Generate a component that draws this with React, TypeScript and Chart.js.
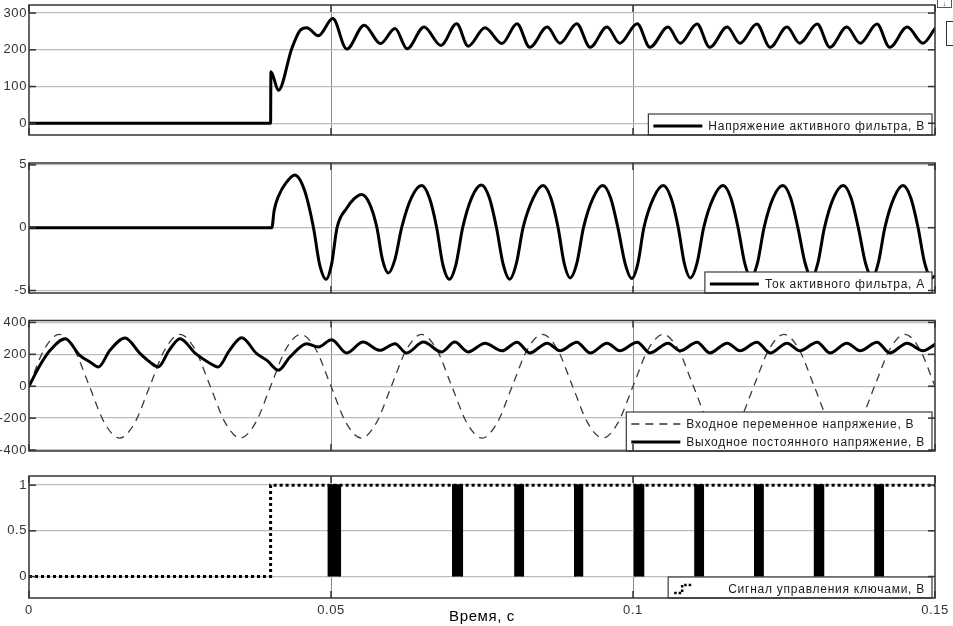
import React, { useEffect, useRef } from "react";
import { Chart, registerables } from "chart.js";

Chart.register(...registerables);

// ---------------- data ----------------
const timeTicks = [0, 0.05, 0.1, 0.15];
const timeTickLabels = ["0", "0.05", "0.1", "0.15"];

const voltTicks = [0, 100, 200, 300];
const voltTickLabels = ["0", "100", "200", "300"];
const currTicks = [-5, 0, 5];
const currTickLabels = ["-5", "0", "5"];
const busTicks = [-400, -200, 0, 200, 400];
const busTickLabels = ["-400", "-200", "0", "200", "400"];
const sigTicks = [0, 0.5, 1];
const sigTickLabels = ["0", "0.5", "1"];

// Panel 1: active filter voltage, V
const filterVoltageTime = [0, 0.04, 0.04005, 0.0413, 0.0435, 0.0449, 0.046, 0.0479, 0.0503, 0.0526, 0.0555, 0.0582, 0.0606, 0.0626, 0.0654, 0.0682, 0.0708, 0.0727, 0.0755, 0.0783, 0.0808, 0.0829, 0.0858, 0.0879, 0.0907, 0.0929, 0.0957, 0.0978, 0.1007, 0.1028, 0.1058, 0.1078, 0.1106, 0.1127, 0.1156, 0.1177, 0.1205, 0.1227, 0.1255, 0.1276, 0.1305, 0.1326, 0.1354, 0.1376, 0.1404, 0.1425, 0.1454, 0.148, 0.15];
const filterVoltage = [0, 0, 140, 90, 203, 253, 260, 238, 285, 202, 267, 217, 258, 203, 262, 212, 271, 210, 260, 217, 271, 207, 262, 218, 271, 207, 262, 218, 271, 207, 262, 218, 270, 207, 262, 218, 270, 207, 262, 218, 270, 207, 262, 218, 270, 207, 262, 218, 258];

// Panel 2: active filter current, A
const filterCurrentTime = [
  0, 0.0402, 0.0406, 0.0413, 0.0426, 0.044, 0.0456, 0.0471, 0.0481, 0.0492,
  0.0501, 0.051, 0.0526, 0.0538, 0.0551, 0.0564, 0.0576, 0.0585, 0.0595, 0.0606,
  0.0617, 0.0633, 0.065, 0.0663, 0.0675, 0.0685, 0.0696, 0.0707, 0.0718, 0.0733,
  0.0749, 0.0762, 0.0774, 0.0785, 0.0796, 0.0807, 0.0818, 0.0835, 0.0851, 0.0864,
  0.0876, 0.0886, 0.0896, 0.0907, 0.0918, 0.0934, 0.095, 0.0963, 0.0975, 0.0987,
  0.0998, 0.1008, 0.1018, 0.1034, 0.105, 0.1063, 0.1075, 0.1085, 0.1095, 0.1106,
  0.1117, 0.1133, 0.1149, 0.1162, 0.1174, 0.1185, 0.1195, 0.1206, 0.1217, 0.1232,
  0.1248, 0.1261, 0.1273, 0.1285, 0.1296, 0.1306, 0.1317, 0.1332, 0.1348, 0.1361,
  0.1373, 0.1385, 0.1396, 0.1406, 0.1417, 0.1432, 0.1447, 0.146, 0.1472, 0.1483,
  0.1494, 0.15,
];
const filterCurrent = [
  0, 0, 1.4, 2.5, 3.6, 4.2, 3.0, 0, -2.9, -4.1,
  -2.9, 0, 1.55, 2.3, 2.65, 1.9, 0, -2.5, -3.6, -2.5,
  0, 2.37, 3.35, 2.37, 0, -2.9, -4.1, -2.9, 0, 2.4,
  3.4, 2.4, 0, -2.9, -4.1, -2.83, 0, 2.37, 3.35, 2.37,
  0, -2.83, -4.0, -2.83, 0, 2.37, 3.35, 2.37, 0, -2.86,
  -4.05, -2.86, 0, 2.37, 3.35, 2.37, 0, -2.83, -4.0, -2.83,
  0, 2.37, 3.35, 2.37, 0, -2.83, -4.0, -2.83, 0, 2.37,
  3.35, 2.37, 0, -2.83, -4.0, -2.83, 0, 2.37, 3.35, 2.37,
  0, -2.83, -4.0, -2.83, 0, 2.37, 3.35, 2.37, 0, -2.83,
  -4.0, -3.85,
];

// Panel 3: AC input voltage (dashed) and DC output voltage (solid), V
const acInputTime = [0, 0.0025, 0.005, 0.0075, 0.01, 0.0125, 0.015, 0.0175, 0.02, 0.0225, 0.025, 0.0275, 0.03, 0.0325, 0.035, 0.0375, 0.04, 0.0425, 0.045, 0.0475, 0.05, 0.0525, 0.055, 0.0575, 0.06, 0.0625, 0.065, 0.0675, 0.07, 0.0725, 0.075, 0.0775, 0.08, 0.0825, 0.085, 0.0875, 0.09, 0.0925, 0.095, 0.0975, 0.1, 0.1025, 0.105, 0.1075, 0.11, 0.1125, 0.115, 0.1175, 0.12, 0.1225, 0.125, 0.1275, 0.13, 0.1325, 0.135, 0.1375, 0.14, 0.1425, 0.145, 0.1475, 0.15];
const acInput = [
  0, 230, 325, 230, 0, -230, -325, -230,
  0, 230, 325, 230, 0, -230, -325, -230,
  0, 230, 325, 230, 0, -230, -325, -230,
  0, 230, 325, 230, 0, -230, -325, -230,
  0, 230, 325, 230, 0, -230, -325, -230,
  0, 230, 325, 230, 0, -230, -325, -230,
  0, 230, 325, 230, 0, -230, -325, -230,
  0, 230, 325, 230, 0,
];
const dcOutputTime = [0, 0.0018, 0.0035, 0.006, 0.0084, 0.0101, 0.0115, 0.0134, 0.0159, 0.0184, 0.02, 0.0214, 0.0232, 0.025, 0.0276, 0.0296, 0.0313, 0.0332, 0.0352, 0.0377, 0.0394, 0.0413, 0.0432, 0.046, 0.0479, 0.0501, 0.0526, 0.0553, 0.0581, 0.0606, 0.0625, 0.0653, 0.0683, 0.0705, 0.0727, 0.0755, 0.0783, 0.0808, 0.0829, 0.0858, 0.0879, 0.0907, 0.0929, 0.0957, 0.0978, 0.1007, 0.1028, 0.1058, 0.1078, 0.1106, 0.1127, 0.1156, 0.1177, 0.1205, 0.1227, 0.1255, 0.1276, 0.1305, 0.1326, 0.1354, 0.1376, 0.1404, 0.1425, 0.1454, 0.148, 0.15];
const dcOutput = [0, 130, 225, 298, 194, 152, 121, 225, 302, 204, 152, 121, 225, 298, 204, 152, 121, 225, 304, 204, 162, 100, 183, 267, 246, 292, 208, 277, 225, 267, 208, 277, 215, 277, 215, 270, 222, 276, 209, 270, 222, 276, 209, 270, 222, 276, 209, 270, 222, 276, 209, 270, 222, 276, 209, 270, 222, 276, 209, 270, 222, 276, 209, 270, 222, 262];

// Panel 4: switch control signal
const signalTime = [0, 0.04, 0.04, 0.15];
const signalValue = [0, 0, 1, 1];
const burstStart = [0.0496, 0.0702, 0.0805, 0.0904, 0.1003, 0.1103, 0.1202, 0.1301, 0.1401];
const burstEnd = [0.0515, 0.0717, 0.0818, 0.0916, 0.1017, 0.1116, 0.1215, 0.1315, 0.1414];

// ---------------- helpers ----------------
const FONT = '"Liberation Sans", Arial, Helvetica, sans-serif';

type LegendItem = { label: string; kind: "solid" | "dashed" | "signal" };

function xy(ts: number[], vs: (number | null)[]) {
  return ts.map((t, i) => ({ x: t, y: vs[i] }));
}

function burstPoints() {
  const pts: { x: number; y: number | null }[] = [];
  burstStart.forEach((s, i) => {
    const e = burstEnd[i];
    pts.push({ x: s, y: 0 }, { x: s, y: 1 }, { x: e, y: 1 }, { x: e, y: 0 }, { x: e, y: null });
  });
  return pts;
}

const framePlugin = {
  id: "frame",
  beforeDraw(chart: any) {
    chart.ctx.letterSpacing = "0.6px";
  },
  afterDatasetsDraw(chart: any, _a: any, opts: any) {
    const items: LegendItem[] = opts.items || [];
    if (!items.length) return;
    const { ctx, chartArea: a } = chart;
    ctx.save();
    ctx.font = `12px ${FONT}`;
    ctx.letterSpacing = "0.75px";
    const textW = Math.max(...items.map((it) => ctx.measureText(it.label).width));
    const right = a.right - 3;
    const textLeft = right - 7 - textW;
    const left = textLeft - 60;
    const h = 3 + 18 * items.length;
    const top = a.bottom - h;
    ctx.fillStyle = "#fff";
    ctx.fillRect(left, top, right - left, h);
    ctx.strokeStyle = "#3a3a3a";
    ctx.lineWidth = 1.2;
    ctx.strokeRect(left, top, right - left, h);
    items.forEach((it, i) => {
      const cy = top + 12 + 18 * i;
      ctx.strokeStyle = "#000";
      ctx.beginPath();
      if (it.kind === "solid") {
        ctx.setLineDash([]);
        ctx.lineWidth = 3;
        ctx.moveTo(left + 5, cy);
        ctx.lineTo(left + 54, cy);
      } else if (it.kind === "dashed") {
        ctx.setLineDash([8, 6]);
        ctx.lineWidth = 1.3;
        ctx.strokeStyle = "#333";
        ctx.moveTo(left + 5, cy);
        ctx.lineTo(left + 54, cy);
      } else {
        ctx.setLineDash([2.5, 2]);
        ctx.lineWidth = 2.5;
        ctx.moveTo(left + 6, cy + 4);
        ctx.lineTo(left + 14, cy + 4);
        ctx.lineTo(left + 14, cy - 4);
        ctx.lineTo(left + 23, cy - 4);
      }
      ctx.stroke();
      ctx.setLineDash([]);
      ctx.fillStyle = "#1a1a1a";
      ctx.textAlign = "left";
      ctx.textBaseline = "middle";
      ctx.fillText(it.label, textLeft, cy + 1);
    });
    ctx.restore();
  },
  afterDraw(chart: any, _a: any, opts: any) {
    const { ctx, chartArea: a, scales } = chart;
    ctx.save();
    ctx.setLineDash([]);
    ctx.strokeStyle = "#333";
    ctx.lineWidth = 1.5;
    ctx.strokeRect(a.left, a.top, a.right - a.left, a.bottom - a.top);
    const seg = (x1: number, y1: number, x2: number, y2: number) => {
      ctx.beginPath();
      ctx.moveTo(x1, y1);
      ctx.lineTo(x2, y2);
      ctx.stroke();
    };
    (opts.yTicks || []).forEach((v: number) => {
      const p = scales.y.getPixelForValue(v);
      seg(a.left, p, a.left + 7, p);
      seg(a.right - 7, p, a.right, p);
    });
    timeTicks.forEach((v) => {
      const p = scales.x.getPixelForValue(v);
      seg(p, a.bottom, p, a.bottom - 7);
      seg(p, a.top, p, a.top + 7);
    });
    ctx.restore();
  },
};

type PanelProps = {
  top: number;
  height: number;
  padTop: number;
  padBottom: number;
  yMin: number;
  yMax: number;
  yTicks: number[];
  yLabels: string[];
  datasets: any[];
  legend: LegendItem[];
  showX: boolean;
};

function Panel(p: PanelProps) {
  const ref = useRef<HTMLCanvasElement>(null);
  useEffect(() => {
    const chart = new Chart(ref.current as HTMLCanvasElement, {
      type: "line",
      data: { datasets: p.datasets },
      plugins: [framePlugin as any],
      options: {
        responsive: false,
        animation: false,
        events: [],
        layout: { padding: { left: 0, right: 18, top: p.padTop, bottom: p.padBottom } },
        plugins: {
          legend: { display: false },
          tooltip: { enabled: false },
          frame: { items: p.legend, yTicks: p.yTicks },
        } as any,
        scales: {
          x: {
            type: "linear",
            min: 0,
            max: 0.15,
            afterBuildTicks: (s: any) => {
              s.ticks = timeTicks.map((v) => ({ value: v }));
            },
            afterFit: (s: any) => {
              s.paddingLeft = 0;
              s.paddingRight = 0;
              s.height = p.showX ? 28 : 0;
            },
            grid: {
              color: (c: any) =>
                c.tick && c.tick.value > 0 && c.tick.value < 0.15 ? "#8a8a8a" : "rgba(0,0,0,0)",
              lineWidth: 1,
              drawTicks: false,
            },
            border: { display: false },
            ticks: {
              display: p.showX,
              padding: 5,
              autoSkip: false,
              maxRotation: 0,
              color: "#333",
              font: { size: 13, family: FONT },
              callback: (_v: any, i: number) => timeTickLabels[i],
            },
            title: {
              display: p.showX,
              text: "Время, с",
              color: "#000",
              font: { size: 15, family: FONT },
              padding: { top: 0, bottom: 0 },
            },
          },
          y: {
            type: "linear",
            min: p.yMin,
            max: p.yMax,
            afterBuildTicks: (s: any) => {
              s.ticks = p.yTicks.map((v) => ({ value: v }));
            },
            afterFit: (s: any) => {
              s.width = 29;
              s.paddingTop = 0;
              s.paddingBottom = 0;
            },
            grid: { color: "#bdbdbd", lineWidth: 1.3, drawTicks: false },
            border: { display: false },
            ticks: {
              padding: 2,
              autoSkip: false,
              color: "#333",
              font: { size: 13, family: FONT },
              callback: (_v: any, i: number) => p.yLabels[i],
            },
          },
        },
      },
    });
    return () => chart.destroy();
  }, []);
  return (
    <canvas
      ref={ref}
      width={953}
      height={p.height}
      style={{ position: "absolute", left: 0, top: p.top, width: 953, height: p.height }}
    />
  );
}

const solid = {
  borderColor: "#000",
  borderWidth: 3,
  pointRadius: 0,
  fill: false,
  cubicInterpolationMode: "monotone",
  borderJoinStyle: "round",
  borderCapStyle: "round",
};

export default function App() {
  return (
    <div
      style={{
        position: "absolute",
        left: 0,
        top: 0,
        width: 953,
        height: 626,
        background: "#fff",
        overflow: "hidden",
      }}
    >
      <Panel
        top={0}
        height={145}
        padTop={5}
        padBottom={10}
        yMin={-32}
        yMax={322}
        yTicks={voltTicks}
        yLabels={voltTickLabels}
        datasets={[{ ...solid, data: xy(filterVoltageTime, filterVoltage) }]}
        legend={[{ label: "Напряжение активного фильтра, В", kind: "solid" }]}
        showX={false}
      />
      <Panel
        top={148}
        height={152}
        padTop={15}
        padBottom={7}
        yMin={-5.2}
        yMax={5.15}
        yTicks={currTicks}
        yLabels={currTickLabels}
        datasets={[{ ...solid, data: xy(filterCurrentTime, filterCurrent) }]}
        legend={[{ label: "Ток активного фильтра, А", kind: "solid" }]}
        showX={false}
      />
      <Panel
        top={303}
        height={160}
        padTop={17.5}
        padBottom={12}
        yMin={-406}
        yMax={412}
        yTicks={busTicks}
        yLabels={busTickLabels}
        datasets={[
          { ...solid, data: xy(dcOutputTime, dcOutput) },
          {
            data: xy(acInputTime, acInput),
            borderColor: "#3a3a3a",
            borderWidth: 1.3,
            borderDash: [8, 6],
            pointRadius: 0,
            fill: false,
            cubicInterpolationMode: "monotone",
          },
        ]}
        legend={[
          { label: "Входное переменное напряжение, В", kind: "dashed" },
          { label: "Выходное постоянного напряжение, В", kind: "solid" },
        ]}
        showX={false}
      />
      <Panel
        top={466}
        height={160}
        padTop={10}
        padBottom={0}
        yMin={-0.235}
        yMax={1.1}
        yTicks={sigTicks}
        yLabels={sigTickLabels}
        datasets={[
          {
            data: xy(signalTime, signalValue),
            borderColor: "#000",
            borderWidth: 3,
            borderDash: [3, 3],
            borderCapStyle: "butt",
            pointRadius: 0,
            tension: 0,
            fill: false,
          },
          {
            data: burstPoints(),
            borderColor: "#000",
            borderWidth: 2,
            backgroundColor: "#000",
            pointRadius: 0,
            tension: 0,
            spanGaps: false,
            fill: "origin",
          },
        ]}
        legend={[{ label: "Сигнал управления ключами, В", kind: "signal" }]}
        showX={true}
      />
      <div
        style={{
          position: "absolute",
          left: 937,
          top: -1,
          width: 13,
          height: 7,
          border: "1px solid #555",
          fontSize: 7,
          lineHeight: "7px",
          textAlign: "center",
          fontFamily: FONT,
          color: "#333",
        }}
      >
        ↓
      </div>
      <div
        style={{
          position: "absolute",
          left: 946,
          top: 21,
          width: 14,
          height: 23,
          border: "1.5px solid #333",
        }}
      />
    </div>
  );
}
